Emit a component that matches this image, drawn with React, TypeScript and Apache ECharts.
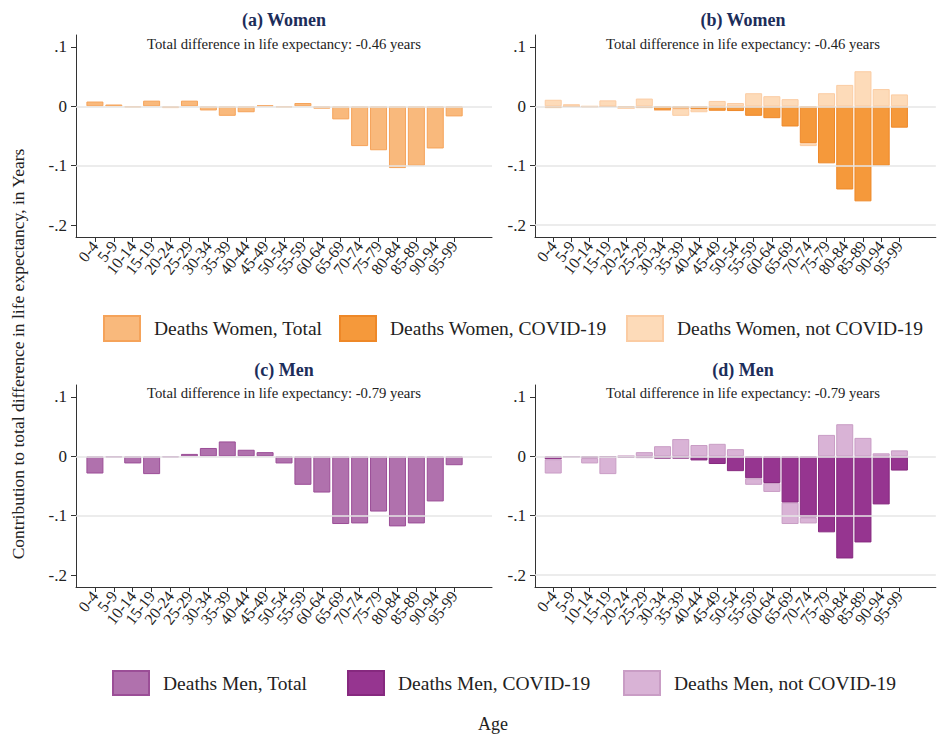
import React, { useEffect, useRef } from "react";
import * as echarts from "echarts";

const ages = ["0-4","5-9","10-14","15-19","20-24","25-29","30-34","35-39","40-44","45-49","50-54","55-59","60-64","65-69","70-74","75-79","80-84","85-89","90-94","95-99"];

const womenTotal = [0.008, 0.003, -0.002, 0.0095, -0.003, 0.0095, -0.007, -0.016, -0.010, 0.0015, -0.002, 0.0055, -0.004, -0.022, -0.067, -0.074, -0.104, -0.100, -0.071, -0.017];
const womenCovid = [-0.003, -0.0005, -0.0005, -0.0005, -0.003, -0.003, -0.0065, -0.004, -0.005, -0.0075, -0.008, -0.016, -0.020, -0.034, -0.062, -0.096, -0.140, -0.160, -0.100, -0.036];
const womenNonCovid = [0.011, 0.0035, -0.0015, 0.010, 0, 0.013, -0.001, -0.012, -0.005, 0.009, 0.0055, 0.022, 0.017, 0.012, -0.005, 0.022, 0.036, 0.059, 0.029, 0.020];

const menTotal = [-0.029, -0.002, -0.012, -0.030, -0.002, 0.004, 0.014, 0.025, 0.011, 0.007, -0.012, -0.048, -0.061, -0.114, -0.113, -0.093, -0.118, -0.113, -0.076, -0.015];
const menCovid = [-0.005, -0.001, -0.003, -0.001, -0.0025, -0.003, -0.004, -0.004, -0.007, -0.013, -0.025, -0.037, -0.045, -0.078, -0.103, -0.128, -0.172, -0.145, -0.081, -0.024];
const menNonCovid = [-0.024, -0.001, -0.009, -0.029, 0.0005, 0.007, 0.017, 0.029, 0.019, 0.021, 0.012, -0.011, -0.015, -0.036, -0.010, 0.036, 0.054, 0.031, 0.005, 0.010];

const yTicks = [-0.2, -0.1, 0, 0.1];
const panelTitles = ["(a) Women", "(b) Women", "(c) Men", "(d) Men"];
const subtitles = ["Total difference in life expectancy: -0.46 years", "Total difference in life expectancy: -0.46 years", "Total difference in life expectancy: -0.79 years", "Total difference in life expectancy: -0.79 years"];
const legendNames = ["Deaths Women, Total", "Deaths Women, COVID-19", "Deaths Women, not COVID-19", "Deaths Men, Total", "Deaths Men, COVID-19", "Deaths Men, not COVID-19"];

const FONT = '"Liberation Serif", "Times New Roman", serif';
const xCats = [" ", ...ages, "  ", "   "];

const colors = {
  wTotal: { fill: "#f9b97c", border: "#f5a35a" },
  wCovid: { fill: "#f5993b", border: "#ee8828" },
  wNon: { fill: "#fddbb9", border: "#fbcca3" },
  mTotal: { fill: "#b071ad", border: "#9b4e97" },
  mCovid: { fill: "#963590", border: "#86297f" },
  mNon: { fill: "#d9b3d6", border: "#c99dc5" },
};

function fmtY(v: number) {
  if (v === 0) return "0";
  const s = String(Math.abs(Math.round(v * 10) / 10)).replace(/^0/, "");
  return (v < 0 ? "-" : "") + s;
}

export default function App() {
  const ref = useRef<HTMLDivElement>(null);
  useEffect(() => {
    if (!ref.current) return;
    const chart = echarts.init(ref.current, undefined, { renderer: "svg" });
    const grids = [
      { left: 76, top: 35, width: 416, height: 202 },
      { left: 535, top: 35, width: 416, height: 202 },
      { left: 76, top: 385, width: 416, height: 202 },
      { left: 535, top: 385, width: 416, height: 202 },
    ];
    const xAxes = grids.map((_, i) => ({
      type: "category",
      gridIndex: i,
      data: xCats,
      boundaryGap: false,
      axisLine: { show: true, onZero: false, lineStyle: { color: "#333", width: 1 } },
      axisTick: { show: true, length: 5, interval: (_idx: number, val: string) => val.trim() !== "", lineStyle: { color: "#333" } },
      axisLabel: { interval: 0, rotate: 52, margin: 6, fontFamily: FONT, fontSize: 16, color: "#222" },
      splitLine: { show: false },
    }));
    const yAxes = grids.map((_, i) => ({
      type: "value",
      gridIndex: i,
      min: -0.22,
      max: 0.12,
      axisLine: { show: true, lineStyle: { color: "#333", width: 1 } },
      axisTick: { show: true, length: 5, customValues: yTicks, lineStyle: { color: "#333" } },
      axisLabel: { customValues: yTicks, formatter: fmtY, margin: 9, fontFamily: FONT, fontSize: 17, color: "#222" },
      splitLine: { show: false },
    }));
    const pairs = (vals: number[]) => ages.map((a, i) => [a, vals[i]]);
    const bar = (name: string, idx: number, vals: number[], c: { fill: string; border: string }, stack?: string) => ({
      name,
      type: "bar",
      xAxisIndex: idx,
      yAxisIndex: idx,
      stack,
      barWidth: 17,
      data: pairs(vals),
      itemStyle: { color: c.fill, borderColor: c.border, borderWidth: 1 },
      z: 2,
    });
    const gridLines = (idx: number, levels: number[]) => ({
      name: "grid" + idx,
      type: "line",
      xAxisIndex: idx,
      yAxisIndex: idx,
      data: [[ages[0], 0]],
      symbol: "none",
      lineStyle: { opacity: 0 },
      silent: true,
      z: 1,
      markLine: {
        silent: true,
        symbol: "none",
        label: { show: false },
        lineStyle: { color: "#e6e6e6", width: 1.5, type: "solid" },
        data: levels.map((v) => ({ yAxis: v })),
      },
    });
    const series = [
      gridLines(0, [0, -0.1]),
      gridLines(1, [0, -0.1, -0.2]),
      gridLines(2, [0, -0.1]),
      gridLines(3, [0, -0.1, -0.2]),
      bar(legendNames[0], 0, womenTotal, colors.wTotal),
      bar(legendNames[1], 1, womenCovid, colors.wCovid, "w"),
      bar(legendNames[2], 1, womenNonCovid, colors.wNon, "w"),
      bar(legendNames[3], 2, menTotal, colors.mTotal),
      bar(legendNames[4], 3, menCovid, colors.mCovid, "m"),
      bar(legendNames[5], 3, menNonCovid, colors.mNon, "m"),
    ];
    const legPos = [
      { left: 103, top: 315, h: 25 },
      { left: 339, top: 315, h: 25 },
      { left: 626, top: 315, h: 25 },
      { left: 112, top: 670, h: 24 },
      { left: 347, top: 670, h: 24 },
      { left: 623, top: 670, h: 24 },
    ];
    const legends = legendNames.map((n, i) => ({
      data: [n],
      left: legPos[i].left,
      top: legPos[i].top,
      padding: 0,
      icon: "rect",
      itemWidth: 36,
      itemHeight: legPos[i].h,
      selectedMode: false,
      textStyle: { fontFamily: FONT, fontSize: 19.5, color: "#222", padding: [0, 0, 0, 9] },
    }));
    const titleX = [284, 743, 284, 743];
    const titleY = [20, 20, 370, 370];
    const subY = [44, 44, 393, 393];
    const graphic: any[] = [];
    panelTitles.forEach((t, i) => {
      graphic.push({
        type: "text", x: titleX[i], y: titleY[i],
        style: { text: t, align: "center", verticalAlign: "middle", textAlign: "center", textVerticalAlign: "middle", fontFamily: FONT, fontSize: 18, fontWeight: "bold", fill: "#1c2d5a" },
      });
      graphic.push({
        type: "text", x: titleX[i], y: subY[i],
        style: { text: subtitles[i], align: "center", verticalAlign: "middle", textAlign: "center", textVerticalAlign: "middle", fontFamily: FONT, fontSize: 14.7, fill: "#222" },
      });
    });
    graphic.push({
      type: "text", x: 18, y: 354, rotation: Math.PI / 2,
      style: { text: "Contribution to total difference in life expectancy, in Years", align: "center", verticalAlign: "middle", textAlign: "center", textVerticalAlign: "middle", fontFamily: FONT, fontSize: 17.5, fill: "#222" },
    });
    graphic.push({
      type: "text", x: 493, y: 724,
      style: { text: "Age", align: "center", verticalAlign: "middle", textAlign: "center", textVerticalAlign: "middle", fontFamily: FONT, fontSize: 18, fill: "#222" },
    });
    chart.setOption({
      animation: false,
      backgroundColor: "#ffffff",
      grid: grids,
      xAxis: xAxes,
      yAxis: yAxes,
      legend: legends,
      series,
      graphic,
    } as any);
    return () => chart.dispose();
  }, []);
  return <div ref={ref} style={{ width: 944, height: 735, position: "absolute", left: 0, top: 0 }} />;
}
